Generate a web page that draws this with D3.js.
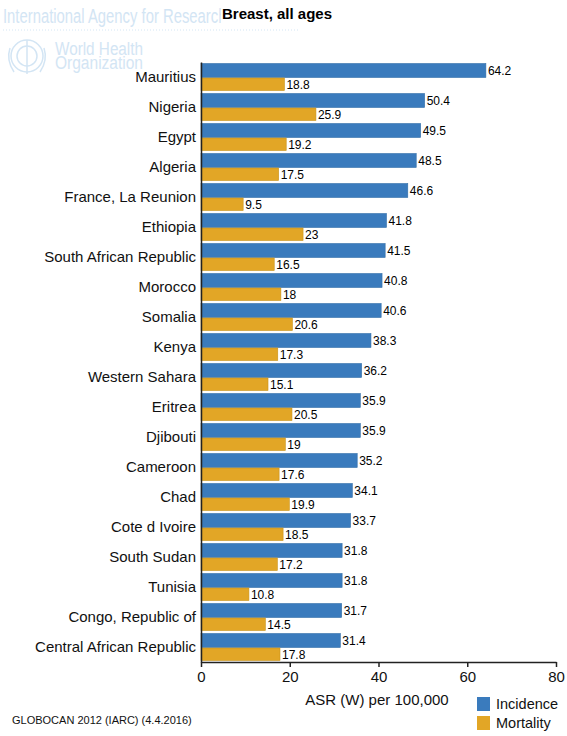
<!DOCTYPE html>
<html><head><meta charset="utf-8">
<script src="https://cdn.jsdelivr.net/npm/d3@7"></script>
<style>body{margin:0;background:#fff}svg{display:block;font-family:Arial,"Liberation Sans",sans-serif}</style>
</head><body><svg id="c" width="567" height="736"></svg>
<script>
const countries=["Mauritius","Nigeria","Egypt","Algeria","France, La Reunion","Ethiopia","South African Republic","Morocco","Somalia","Kenya","Western Sahara","Eritrea","Djibouti","Cameroon","Chad","Cote d Ivoire","South Sudan","Tunisia","Congo, Republic of","Central African Republic"];
const incidence=[64.2,50.4,49.5,48.5,46.6,41.8,41.5,40.8,40.6,38.3,36.2,35.9,35.9,35.2,34.1,33.7,31.8,31.8,31.7,31.4];
const mortality=[18.8,25.9,19.2,17.5,9.5,23,16.5,18,20.6,17.3,15.1,20.5,19,17.6,19.9,18.5,17.2,10.8,14.5,17.8];
const xTicks=[0,20,40,60,80];
const seriesNames=["Incidence","Mortality"];
const colors=["#3a7bbd","#e2a626"];

const svg=d3.select("#c");
const L=201,R=556,T=62,B=662;
const x=d3.scaleLinear().domain([0,80]).range([L,R]);
const y=d3.scaleBand().domain(countries).range([T,B]);

// watermark
const wm="#d3e5f4";
svg.append("clipPath").attr("id","wmclip").append("rect").attr("x",0).attr("y",0).attr("width",221).attr("height",40);
svg.append("text").attr("clip-path","url(#wmclip)").attr("x",3).attr("y",23).attr("font-size",20).attr("fill",wm)
 .attr("textLength",296).attr("lengthAdjust","spacingAndGlyphs").text("International Agency for Research on Cancer");
svg.append("line").attr("x1",3).attr("x2",300).attr("y1",30).attr("y2",30).attr("stroke",wm).attr("stroke-dasharray","1,2");
const g0=svg.append("g").attr("fill","none").attr("stroke",wm).attr("stroke-width",1.5);
g0.append("circle").attr("cx",27).attr("cy",56).attr("r",16);
g0.append("circle").attr("cx",27).attr("cy",56).attr("r",10);
g0.append("path").attr("d","M10,48 Q6,60 14,72 M44,48 Q48,60 40,72 M27,40 L27,74");
svg.append("text").attr("x",55).attr("y",55).attr("font-size",18).attr("fill",wm).attr("textLength",88).attr("lengthAdjust","spacingAndGlyphs").text("World Health");
svg.append("text").attr("x",55).attr("y",69).attr("font-size",18).attr("fill",wm).attr("textLength",88).attr("lengthAdjust","spacingAndGlyphs").text("Organization");

// title
svg.append("rect").attr("x",221).attr("y",2).attr("width",114).attr("height",22).attr("fill","#fff");
svg.append("text").attr("x",277).attr("y",19).attr("text-anchor","middle").attr("font-size",15).attr("font-weight","bold").text("Breast, all ages");

// bars
const rows=countries.map((c,i)=>({c,inc:incidence[i],mort:mortality[i]}));
const g=svg.append("g");
g.selectAll(".inc").data(rows).join("rect")
 .attr("x",x(0)).attr("y",d=>y(d.c)+1.5).attr("width",d=>x(d.inc)-x(0)).attr("height",14)
 .attr("fill",colors[0]).attr("stroke","#3570a8").attr("stroke-width",0.6);
g.selectAll(".mort").data(rows).join("rect")
 .attr("x",x(0)).attr("y",d=>y(d.c)+16).attr("width",d=>x(d.mort)-x(0)).attr("height",12.5)
 .attr("fill",colors[1]).attr("stroke","#c9931c").attr("stroke-width",0.6);
g.selectAll(".li").data(rows).join("text")
 .attr("x",d=>x(d.inc)+2).attr("y",d=>y(d.c)+8.5).attr("dy","0.35em").attr("font-size",12).text(d=>d.inc);
g.selectAll(".lm").data(rows).join("text")
 .attr("x",d=>x(d.mort)+2).attr("y",d=>y(d.c)+22.5).attr("dy","0.35em").attr("font-size",12).text(d=>d.mort);

// y axis
const ya=svg.append("g").attr("transform",`translate(${L},0)`).call(d3.axisLeft(y).tickSize(0).tickPadding(5));
ya.select(".domain").attr("stroke","#222").attr("stroke-width",1.5);
ya.selectAll("text").attr("font-size",15).attr("fill","#111").attr("font-family","Arial,'Liberation Sans',sans-serif");

// x axis
const xa=svg.append("g").attr("transform",`translate(0,${B})`).call(d3.axisBottom(x).tickValues(xTicks).tickSize(5).tickSizeOuter(0).tickPadding(4));
xa.select(".domain").attr("stroke","#222").attr("stroke-width",1.5);
xa.selectAll(".tick line").attr("stroke","#222").attr("stroke-width",1.5);
xa.selectAll("text").attr("font-size",15).attr("fill","#111").attr("font-family","Arial,'Liberation Sans',sans-serif");
svg.append("text").attr("x",377).attr("y",705).attr("text-anchor","middle").attr("font-size",15).attr("fill","#111").text("ASR (W) per 100,000");

// legend
seriesNames.forEach((n,i)=>{
 svg.append("rect").attr("x",477).attr("y",697+i*19).attr("width",13).attr("height",14).attr("fill",colors[i]);
 svg.append("text").attr("x",496).attr("y",709+i*19).attr("font-size",14.5).attr("fill","#111").text(n);
});

// footer
svg.append("text").attr("x",12).attr("y",724).attr("font-size",11).attr("fill","#111").text("GLOBOCAN 2012 (IARC) (4.4.2016)");
</script></body></html>
